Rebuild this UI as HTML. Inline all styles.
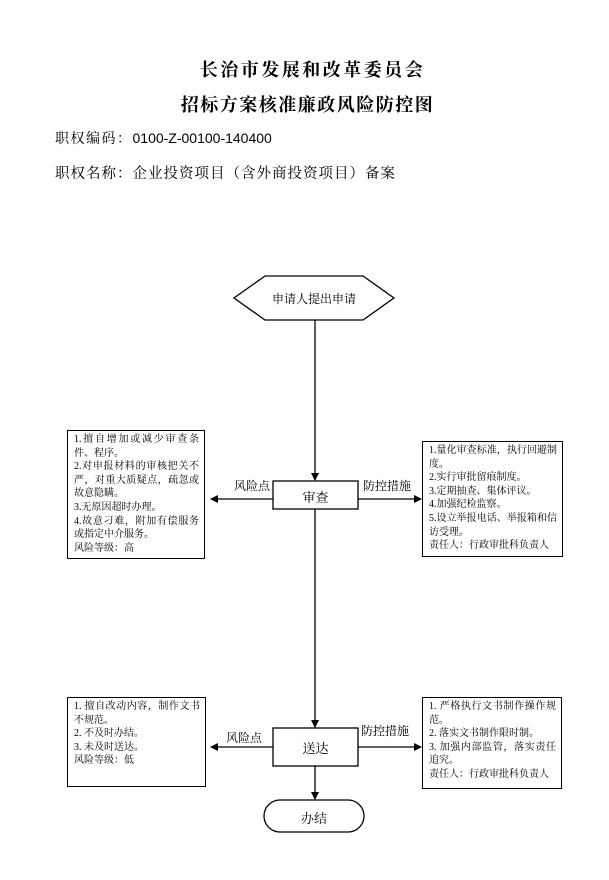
<!DOCTYPE html>
<html><head><meta charset="utf-8"><style>
body{margin:0;background:#fff;width:609px;height:880px;position:relative;overflow:hidden;font-family:"Liberation Serif","Noto Serif CJK SC","Noto Sans CJK SC",serif;color:#000}
.t{position:absolute;white-space:nowrap}
.box{position:absolute;border:1.3px solid #000;box-sizing:border-box;font-size:10px;line-height:13.6px;padding:2px 5px 0 6px;background:#fff;text-align:justify}
</style></head><body>
<div class="t" style="left:0;width:609px;text-align:center;top:56px;font-size:18px;font-weight:bold;letter-spacing:2.5px;padding-left:8px">长治市发展和改革委员会</div>
<div class="t" style="left:0;width:609px;text-align:center;top:91px;font-size:18px;font-weight:bold;letter-spacing:1.5px;padding-left:3px">招标方案核准廉政风险防控图</div>
<div class="t" style="left:55px;top:128px;font-size:14px;letter-spacing:1.5px">职权编码：<span style="font-family:'Liberation Sans',sans-serif;letter-spacing:0">0100-Z-00100-140400</span></div>
<div class="t" style="left:55px;top:162px;font-size:14.5px;letter-spacing:1px">职权名称：企业投资项目（含外商投资项目）备案</div>

<svg width="609" height="880" style="position:absolute;left:0;top:0">
<defs><marker id="a" markerWidth="8" markerHeight="8" refX="7" refY="4" orient="auto" markerUnits="userSpaceOnUse"><path d="M0,0 L8,4 L0,8 Z" fill="#000"/></marker></defs>
<g stroke="#000" stroke-width="1.3" fill="none">
<polygon points="234,298 265,276 363,276 394,298 363,320 265,320" fill="#fff"/>
<line x1="315" y1="320" x2="315" y2="480" marker-end="url(#a)"/>
<line x1="315" y1="509" x2="315" y2="727" marker-end="url(#a)"/>
<line x1="273" y1="499" x2="211" y2="499" marker-end="url(#a)"/>
<line x1="358" y1="499" x2="421" y2="499" marker-end="url(#a)"/>
<line x1="273" y1="747" x2="211" y2="747" marker-end="url(#a)"/>
<line x1="358" y1="747" x2="421" y2="747" marker-end="url(#a)"/>
<line x1="315" y1="766" x2="315" y2="799" marker-end="url(#a)"/>
<rect x="273" y="481" width="85" height="28" fill="#fff"/>
<rect x="273" y="728" width="85" height="38" fill="#fff"/>
<rect x="264" y="800" width="100" height="32" rx="16" fill="#fff"/>
</g>
</svg>
<div class="t" style="left:234px;width:160px;text-align:center;top:290px;font-size:12px">申请人提出申请</div>
<div class="t" style="left:273px;width:85px;text-align:center;top:487px;font-size:13px">审查</div>
<div class="t" style="left:273px;width:85px;text-align:center;top:738px;font-size:13px">送达</div>
<div class="t" style="left:264px;width:100px;text-align:center;top:808px;font-size:13px">办结</div>
<div class="t" style="left:234px;top:477px;font-size:12px">风险点</div>
<div class="t" style="left:363px;top:477px;font-size:12px">防控措施</div>
<div class="t" style="left:226px;top:729px;font-size:12px">风险点</div>
<div class="t" style="left:361px;top:722px;font-size:12px">防控措施</div>

<div class="box" style="left:67px;top:430px;width:138px;height:129px">1.擅自增加或减少审查条件、程序。<br>2.对申报材料的审核把关不严，对重大质疑点，疏忽或故意隐瞒。<br>3.无原因超时办理。<br>4.故意刁难，附加有偿服务或指定中介服务。<br>风险等级：高</div>
<div class="box" style="left:422px;top:441px;width:141px;height:116px">1.量化审查标准，执行回避制度。<br>2.实行审批留痕制度。<br>3.定期抽查、集体评议。<br>4.加强纪检监察。<br>5.设立举报电话、举报箱和信访受理。<br>责任人：行政审批科负责人</div>
<div class="box" style="left:67px;top:697px;width:139px;height:90px">1. 擅自改动内容，制作文书不规范。<br>2. 不及时办结。<br>3. 未及时送达。<br>风险等级：低</div>
<div class="box" style="left:422px;top:697px;width:140px;height:92px">1. 严格执行文书制作操作规范。<br>2. 落实文书制作限时制。<br>3. 加强内部监管，落实责任追究。<br>责任人：行政审批科负责人</div>
</body></html>
